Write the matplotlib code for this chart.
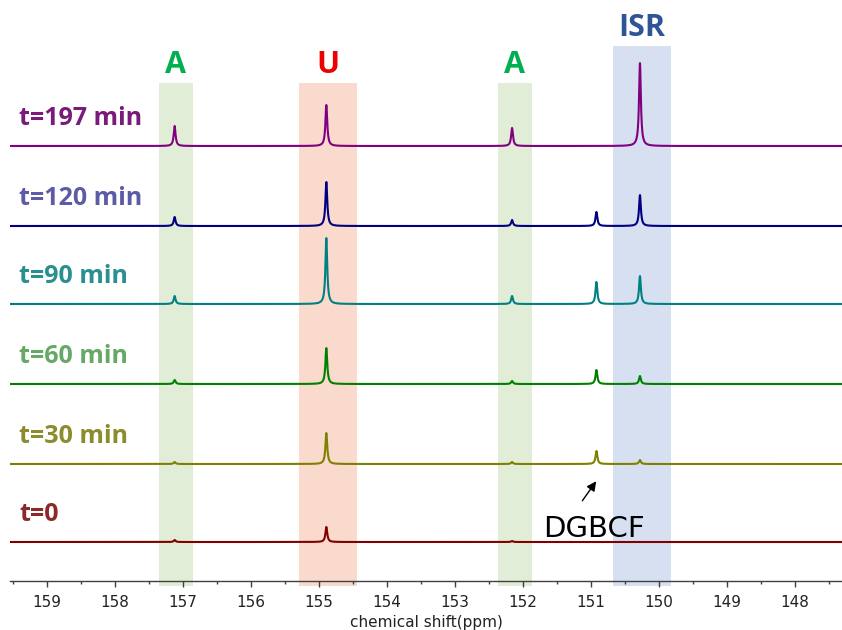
import numpy as np
import matplotlib.pyplot as plt
from matplotlib.ticker import MultipleLocator
import matplotlib.transforms as mtransforms

# ---- data ----
labels = ["t=197 min", "t=120 min", "t=90 min", "t=60 min", "t=30 min", "t=0"]
line_colors = ["#800080", "#000080", "#008080", "#008000", "#808000", "#800000"]
label_colors = ["#7a1a7a", "#5b5ba6", "#2a8f8f", "#66a866", "#8c8c2c", "#8b2a2a"]
offsets = [435, 355, 277, 197, 117, 39]

peak_names = ["A", "U", "A", "DGBCF", "ISR"]
peak_ppm = [157.12, 154.89, 152.16, 150.92, 150.28]
h_197 = [20, 41, 18, 0, 83]
h_120 = [9, 44, 6, 14, 31]
h_90 = [8, 66, 8, 22, 28]
h_60 = [4, 36, 3, 14, 8]
h_30 = [2, 31, 2, 13, 4]
h_0 = [2, 15, 1, 0, 0]
heights = [h_197, h_120, h_90, h_60, h_30, h_0]

band_names = ["A", "U", "A", "ISR"]
band_lo = [156.85, 154.44, 151.87, 149.82]
band_hi = [157.35, 155.29, 152.37, 150.68]
band_fill = ["#e2edd8", "#f9dacd", "#e2edd8", "#d6e0f0"]
band_text_colors = ["#00b050", "#ee0000", "#00b050", "#2f5597"]

x_ticks = list(range(148, 160))

# ---- figure ----
fig = plt.figure(figsize=(8.42, 6.3), dpi=100)
ax = fig.add_axes([10 / 842, 1 - 581 / 630, 832 / 842, 581 / 630])
ax.set_xlim(159.54, 147.31)
ax.set_ylim(0, 581)

band_tops = [498, 498, 498, 535]
for lo, hi, c, top, name, tc in zip(band_lo, band_hi, band_fill, band_tops, band_names, band_text_colors):
    ax.fill_between([lo, hi], [-5, -5], [top, top], color=c, lw=0, zorder=0, clip_on=False)
    ax.text((lo + hi) / 2, top + 10, name, ha="center", va="baseline", color=tc,
            fontsize=22, fontweight="bold", family=["Open Sans", "DejaVu Sans"])

x = np.linspace(159.6, 147.25, 8000)
w = 0.016
trans = mtransforms.blended_transform_factory(ax.transAxes, ax.transData)
for lab, lc, tc, off, hs in zip(labels, line_colors, label_colors, offsets, heights):
    y = np.full_like(x, float(off))
    for p, h in zip(peak_ppm, hs):
        y = y + h / (1 + ((x - p) / w) ** 2)
    ax.plot(x, y, color=lc, lw=1.5, zorder=3)
    ax.text(0.011, off + 21, lab, transform=trans, ha="left", va="baseline",
            color=tc, fontsize=18, fontweight="bold", family=["Open Sans", "DejaVu Sans"])

ax.text(151.71, 44, "DGBCF", ha="left", va="baseline", fontsize=21, color="black", zorder=5)
ax.annotate("", xy=(150.90, 102), xytext=(151.15, 78),
            arrowprops=dict(arrowstyle="-|>", color="black", lw=1, mutation_scale=14))

for s in ["left", "right", "top"]:
    ax.spines[s].set_visible(False)
ax.spines["bottom"].set_color("#404040")
ax.spines["bottom"].set_linewidth(1)
ax.set_yticks([])
ax.set_xticks(x_ticks)
ax.xaxis.set_minor_locator(MultipleLocator(0.5))
ax.tick_params(axis="x", which="major", length=4, width=1, color="#404040", labelsize=11,
               labelcolor="#222222", pad=6)
ax.tick_params(axis="x", which="minor", length=2.5, width=1, color="#404040")
ax.set_xlabel("chemical shift(ppm)", fontsize=11, color="#222222", labelpad=4)

fig.savefig("out.png", dpi=100)
